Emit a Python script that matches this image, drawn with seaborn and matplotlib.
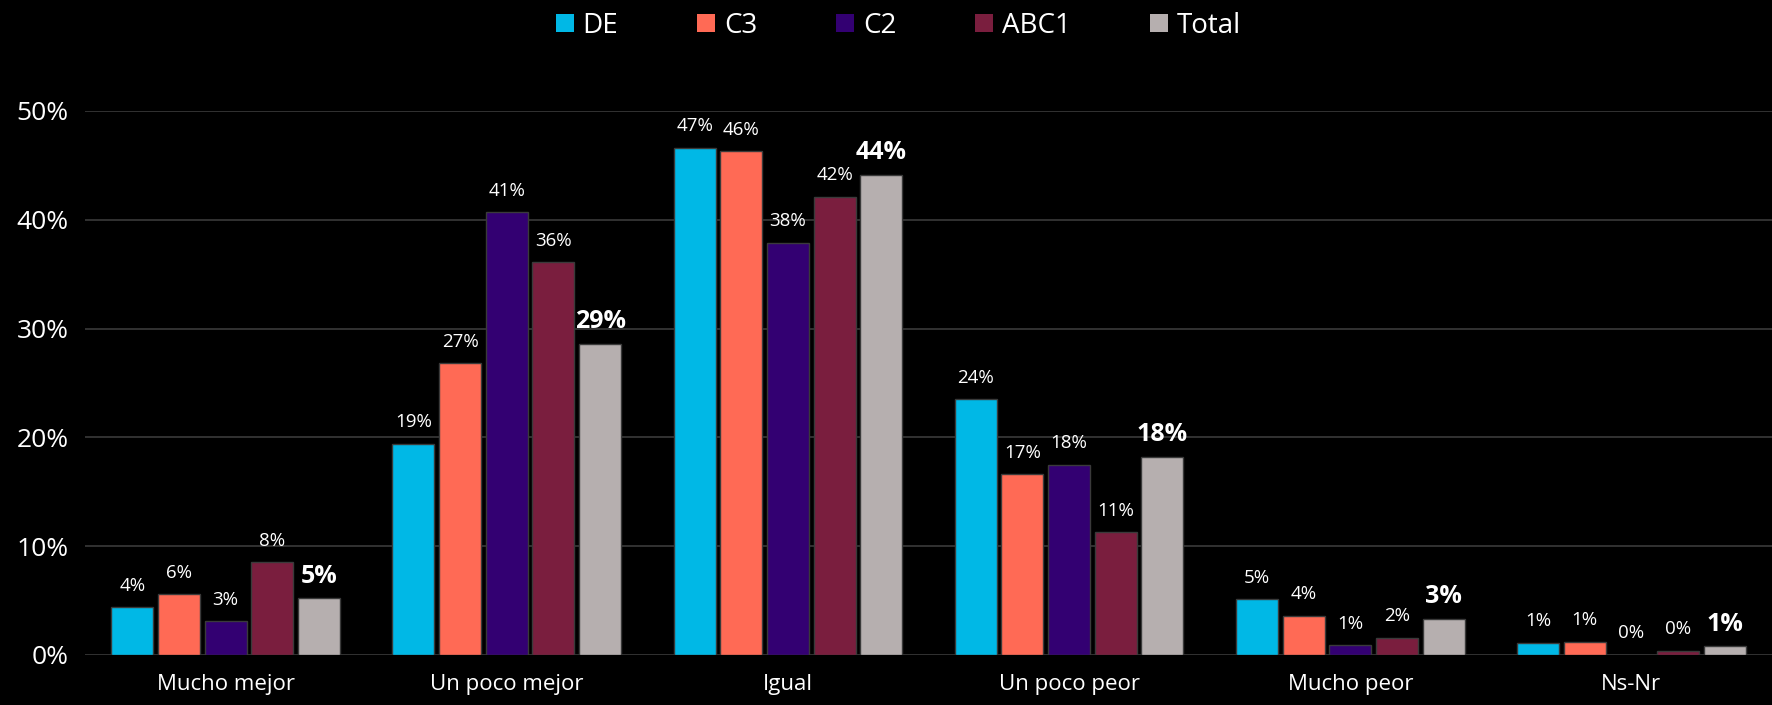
import matplotlib
matplotlib.use("Agg")
import matplotlib.pyplot as plt
import seaborn as sns
import pandas as pd

# Survey answers by socioeconomic group (percent)
categories = ["Mucho mejor", "Un poco mejor", "Igual", "Un poco peor", "Mucho peor", "Ns-Nr"]
groups = ["DE", "C3", "C2", "ABC1", "Total"]
de_vals = [4.4, 19.4, 46.6, 23.5, 5.1, 1.1]
c3_vals = [5.6, 26.8, 46.3, 16.6, 3.6, 1.2]
c2_vals = [3.1, 40.7, 37.9, 17.5, 0.9, 0.0]
abc1_vals = [8.5, 36.1, 42.1, 11.3, 1.6, 0.4]
total_vals = [5.2, 28.6, 44.1, 18.2, 3.3, 0.8]
yticks = [0, 10, 20, 30, 40, 50]

colors = ["#00B8E6", "#FF6A55", "#330072", "#7A1E3E", "#B6AFAF"]

series = [de_vals, c3_vals, c2_vals, abc1_vals, total_vals]
rows = []
for g, vals in zip(groups, series):
    for c, v in zip(categories, vals):
        rows.append({"Respuesta": c, "Grupo": g, "Valor": v})
df = pd.DataFrame(rows)

sns.set_style("dark")
plt.rcParams["font.family"] = ["Open Sans", "DejaVu Sans"]

fig = plt.figure(figsize=(17.72, 7.05), dpi=100, facecolor="black")
ax = fig.add_axes([0.048, 0.071, 0.952, 0.7716])
ax.set_facecolor("black")

sns.barplot(data=df, x="Respuesta", y="Valor", hue="Grupo", order=categories,
            hue_order=groups, palette=colors, width=0.83, gap=0.1,
            edgecolor="#3a3a3a", linewidth=1.0, saturation=1, ax=ax, legend=True)

ax.set_ylim(0, 50)
ax.set_xlim(-0.5, 5.5)
ax.set_yticks(yticks)
ax.set_yticklabels([f"{t}%" for t in yticks], color="white", fontsize=19)
ax.tick_params(axis="x", colors="white", labelsize=16, length=0, pad=14)
ax.tick_params(axis="y", length=0, pad=12)
ax.set_xlabel("")
ax.set_ylabel("")
ax.grid(axis="y", color="#3a3a3a", linewidth=1.2)
ax.grid(axis="x", visible=False)
ax.set_axisbelow(True)
for s in ax.spines.values():
    s.set_visible(False)

# value labels on bars
for cont, g in zip(ax.containers, groups):
    vals = [b.get_height() for b in cont]
    labels = [f"{round(v):.0f}%" for v in vals]
    if g == "Total":
        ax.bar_label(cont, labels=labels, padding=7, color="white",
                     fontsize=18, fontweight="bold", clip_on=False)
    else:
        ax.bar_label(cont, labels=labels, padding=9, color="white",
                     fontsize=13.5, clip_on=False)

# legend across the top
handles, labs = ax.get_legend_handles_labels()
ax.legend_.remove()
leg = fig.legend(handles, labs, loc="center", bbox_to_anchor=(0.507, 0.963),
                 ncol=5, frameon=False, fontsize=20, labelcolor="white",
                 handlelength=0.65, handleheight=0.62, handletextpad=0.32,
                 columnspacing=2.84)
for h in leg.legend_handles:
    h.set_edgecolor("none")

fig.savefig("out.png", dpi=100, facecolor="black")
